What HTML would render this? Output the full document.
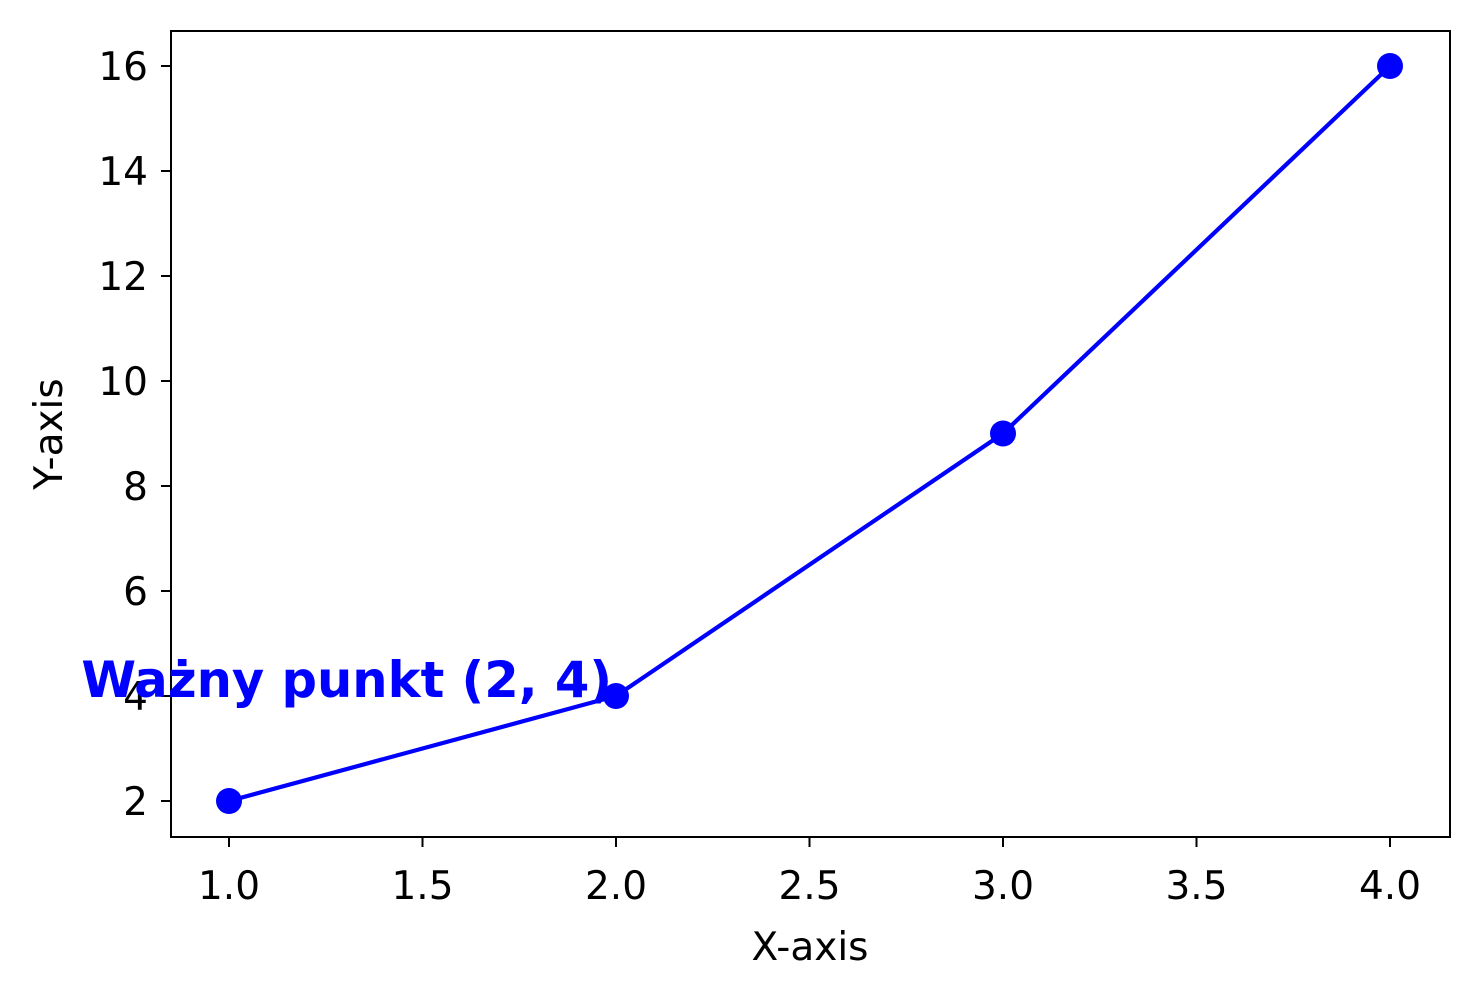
<!DOCTYPE html>
<html><head><meta charset="utf-8"><style>
html,body{margin:0;padding:0;background:#fff;}
svg{display:block;font-family:"DejaVu Sans","Liberation Sans",sans-serif;}
</style></head><body>
<svg id="chart" width="1479" height="998" viewBox="0 0 1479 998" xmlns="http://www.w3.org/2000/svg">
<rect x="0" y="0" width="1479" height="998" fill="#fff"/>
<g id="ticks"></g>
<g id="series"></g>
<rect x="171" y="31" width="1279" height="806" fill="none" stroke="#000" stroke-width="2"/>
<text x="810" y="960" font-size="39" text-anchor="middle">X-axis</text>
<text transform="translate(62,434) rotate(-90)" font-size="39" text-anchor="middle">Y-axis</text>
<text x="612" y="697" font-size="49.6" font-weight="bold" fill="#0000ff" text-anchor="end">Ważny punkt (2, 4)</text>
</svg>
<script>
const xValues = [1, 2, 3, 4];
const yValues = [2, 4, 9, 16];
const xTicks = [1.0, 1.5, 2.0, 2.5, 3.0, 3.5, 4.0];
const yTicks = [2, 4, 6, 8, 10, 12, 14, 16];

function sx(v){ return 229 + (v - 1) * 387; }
function sy(v){ return 801 - (v - 2) * 52.5; }
const NS = "http://www.w3.org/2000/svg";
const tg = document.getElementById('ticks');
const sg = document.getElementById('series');
function mk(tag, attrs, parent){ const e = document.createElementNS(NS, tag); for (const k in attrs) e.setAttribute(k, attrs[k]); parent.appendChild(e); return e; }

xTicks.forEach(t => {
  const l = mk('line', {x1: sx(t), x2: sx(t), y1: 837, y2: 847, stroke: '#000', 'stroke-width': 2}, tg);
  
  
  const tx = mk('text', {x: sx(t), y: 899, 'font-size': 39, 'text-anchor': 'middle'}, tg);
  tx.textContent = t.toFixed(1);
  
  
});
yTicks.forEach(t => {
  const l = mk('line', {x1: 161, x2: 171, y1: sy(t), y2: sy(t), stroke: '#000', 'stroke-width': 2}, tg);
  
  
  const tx = mk('text', {x: 148, y: sy(t) + 14, 'font-size': 39, 'text-anchor': 'end'}, tg);
  tx.textContent = String(t);
  
  
});
const pts = xValues.map((x, i) => sx(x) + ',' + sy(yValues[i])).join(' ');
const pl = mk('polyline', {points: pts, fill: 'none', stroke: '#0000ff', 'stroke-width': 4.2}, sg);


xValues.forEach((x, i) => {
  const c = mk('circle', {cx: sx(x), cy: sy(yValues[i]), r: 13, fill: '#0000ff'}, sg);
  
  
});
</script>
</body></html>
